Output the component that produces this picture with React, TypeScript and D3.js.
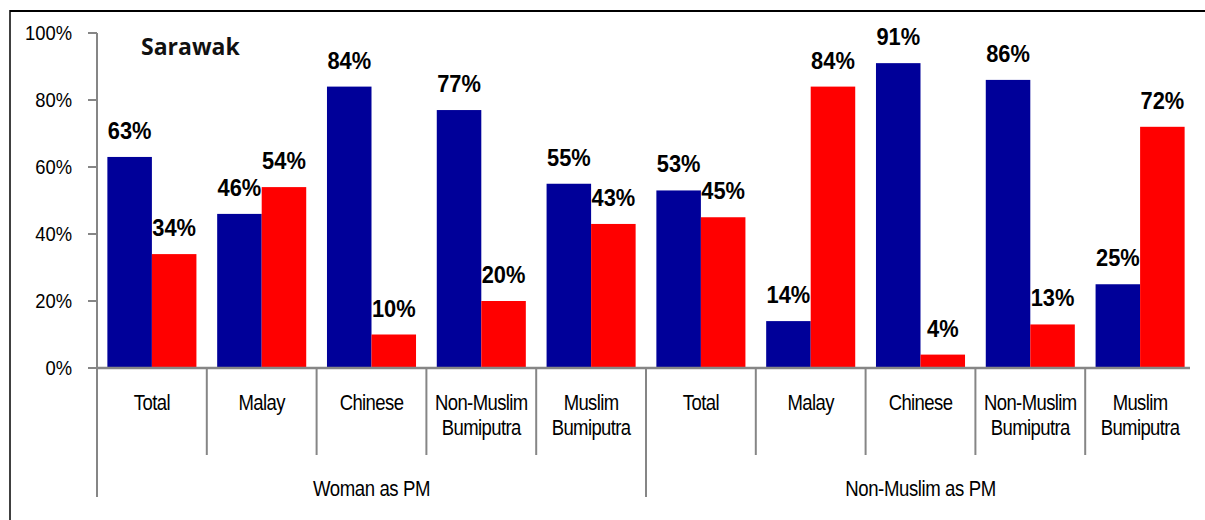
import React from "react";
import * as d3 from "d3";

const groups = ["Woman as PM", "Non-Muslim as PM"];
const categories = [
  ["Total"], ["Malay"], ["Chinese"], ["Non-Muslim", "Bumiputra"], ["Muslim", "Bumiputra"],
];
const seriesBlue = [63, 46, 84, 77, 55, 53, 14, 91, 86, 25];
const seriesRed = [34, 54, 10, 20, 43, 45, 84, 4, 13, 72];
const yTicks = [0, 20, 40, 60, 80, 100];
const title = "Sarawak";

const W = 1205, H = 520;
const BLUE = "#000099", RED = "#FF0000", AXIS = "#868686";

export default function App() {
  const n = groups.length * categories.length;
  const idx = d3.range(n);
  const x = d3.scaleBand<number>().domain(idx).range([97, 1195]).paddingInner(0).paddingOuter(0);
  const inner = d3.scaleBand<string>().domain(["b", "r"]).range([0, x.bandwidth()]).paddingInner(0).paddingOuter(0.233);
  const y = d3.scaleLinear().domain([0, 100]).range([368, 33]);
  const font = "'Liberation Sans', Arial, sans-serif";

  const bars: any[] = [];
  idx.forEach((i) => {
    [["b", seriesBlue[i], BLUE], ["r", seriesRed[i], RED]].forEach(([k, v, c]: any) => {
      bars.push({ i, k, v, c });
    });
  });

  return (
    <svg width={W} height={H} style={{ position: "absolute", left: 0, top: 0, background: "#fff" }} fontFamily={font}>
      <rect x={0} y={0} width={W} height={H} fill="#fff" />
      {/* frame */}
      <line x1={10} x2={W} y1={11} y2={11} stroke="#000" strokeWidth={2} />
      <line x1={10} x2={10} y1={10} y2={H} stroke="#000" strokeWidth={1.5} />
      {/* y axis */}
      <line x1={97} x2={97} y1={y(100)} y2={y(0)} stroke={AXIS} strokeWidth={2} />
      {yTicks.map((t) => (
        <g key={t}>
          <line x1={88} x2={97} y1={y(t)} y2={y(t)} stroke={AXIS} strokeWidth={2} />
          <text transform={`translate(72,${y(t) + 6.5}) scale(1,1.14)`} textAnchor="end" fontSize={18.4} fill="#000">
            {t + "%"}
          </text>
        </g>
      ))}
      {/* bars */}
      {bars.map((b) => (
        <rect key={b.i + b.k} x={(x(b.i) as number) + (inner(b.k) as number)} y={y(b.v)}
          width={inner.bandwidth()} height={y(0) - y(b.v)} fill={b.c} />
      ))}
      {/* data labels */}
      {bars.map((b) => (
        <text key={"l" + b.i + b.k} transform={`translate(${(x(b.i) as number) + (inner(b.k) as number) + inner.bandwidth() / 2},${y(b.v) - 18}) scale(0.95,1.05)`}
          textAnchor="middle" fontSize={23} fontWeight="bold" fill="#000">
          {b.v + "%"}
        </text>
      ))}
      {/* baseline */}
      <line x1={96} x2={1190} y1={y(0)} y2={y(0)} stroke={AXIS} strokeWidth={2.5} />
      {/* category separators and labels */}
      {idx.map((i) => {
        const x0 = x(i) as number;
        const isGroup = i % categories.length === 0;
        const lines = categories[i % categories.length];
        return (
          <g key={"c" + i}>
            <line x1={x0} x2={x0} y1={y(0)} y2={isGroup ? 497 : 455} stroke={AXIS} strokeWidth={2} />
            {lines.map((ln, j) => (
              <text key={j} transform={`translate(${x0 + x.bandwidth() / 2},${410 + j * 25}) scale(1,1.22)`}
                textAnchor="middle" fontSize={18.5} letterSpacing={-0.6} fill="#000">
                {ln}
              </text>
            ))}
          </g>
        );
      })}
      {groups.map((g, gi) => {
        const x0 = x(gi * categories.length) as number;
        const x1 = gi === groups.length - 1 ? x.range()[1] : (x((gi + 1) * categories.length) as number);
        return (
          <text key={g} transform={`translate(${(x0 + x1) / 2},${496}) scale(1,1.2)`} textAnchor="middle"
            fontSize={18.6} letterSpacing={-0.4} fill="#000">
            {g}
          </text>
        );
      })}
      <text x={141} y={55} fontFamily="'Open Sans', sans-serif" fontWeight="bold" fontSize={23} fill="#111">
        {title}
      </text>
    </svg>
  );
}
